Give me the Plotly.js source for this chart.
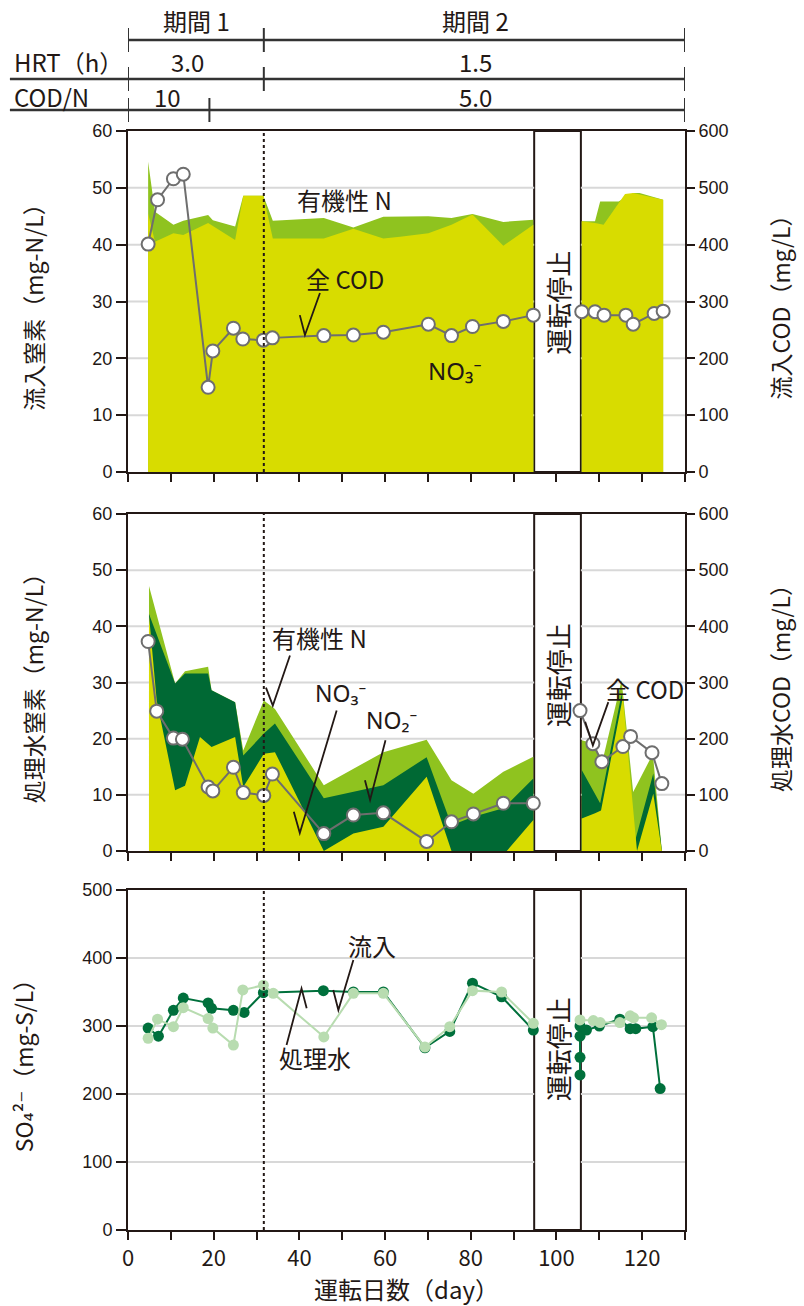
<!DOCTYPE html>
<html><head><meta charset="utf-8">
<script src="https://cdn.plot.ly/plotly-3.0.1.min.js"></script>
<style>html,body{margin:0;padding:0;background:#fff}#chart{width:804px;height:1306px}</style>
</head><body><div id="chart"></div>
<script>
// ---------------- data ----------------
const nTickVals = [0,10,20,30,40,50,60];
const so4TickVals = [0,100,200,300,400,500];
const periodLabels = ['期間 1', '期間 2'];
const hrtLabels = ['3.0', '1.5'];
const codnLabels = ['10', '5.0'];
const dayStart = 0, dayEnd = 130;
const periodSplit = 31.7;   // 期間1 / 期間2
const codnSplit = 19;       // COD/N 10 -> 5.0
const stopStart = 94.8, stopEnd = 105.7; // 運転停止

// Panel 1: influent nitrogen (mg-N/L)
const inflTotDays = [4.7, 6.3, 10.6, 12.9, 18.7, 19.8, 25.0, 26.9, 31.6, 33.8, 45.7, 52.6, 59.6, 70.1, 75.5, 80.4, 87.6, 94.6, 105.9, 109.0, 110.2, 114.5, 117.9, 119.4, 124.9];
const inflTotN    = [54.6, 45.8, 43.5, 44.2, 45.2, 44.3, 43.2, 48.6, 48.6, 44.2, 44.7, 43.0, 44.9, 45.0, 44.7, 45.4, 44.0, 44.4, 44.1, 44.1, 47.6, 47.6, 49.1, 49.1, 47.9];
const inflNO3Days = [4.7, 6.3, 10.6, 12.9, 18.7, 25.0, 26.9, 31.6, 33.8, 45.7, 52.6, 59.6, 63.5, 70.1, 75.5, 80.4, 87.6, 94.6, 105.9, 109.0, 111.0, 116.0, 117.9, 124.9];
const inflNO3     = [45.5, 40.5, 42.0, 41.7, 43.8, 40.8, 48.6, 48.6, 41.1, 41.1, 42.8, 41.1, 41.4, 42.0, 43.5, 45.3, 39.8, 43.5, 44.1, 43.8, 43.5, 48.9, 49.1, 47.9];
const inflCODDays = [4.7, 6.9, 10.6, 12.9, 18.7, 19.8, 24.6, 26.8, 31.6, 33.7, 45.7, 52.6, 59.6, 70.1, 75.5, 80.4, 87.6, 94.6, 105.9, 109.0, 111.1, 116.2, 117.9, 122.8, 124.9];
const inflCOD     = [401, 479, 516, 524, 149, 213, 253, 234, 232, 236, 240, 241, 246, 260, 240, 256, 265, 276, 282, 282, 276, 276, 260, 279, 283];

// Panel 2: effluent nitrogen (mg-N/L)
const effTotDays   = [4.9, 11.0, 13.3, 18.7, 19.5, 25.0, 26.9, 31.7, 34.3, 45.7, 59.6, 69.7, 75.5, 80.6, 87.6, 94.6, 105.9, 108.9, 110.6, 115.2, 117.9, 122.5, 124.6];
const effTotN      = [47.2, 29.8, 32.0, 32.8, 28.6, 26.5, 17.9, 26.8, 25.3, 11.7, 17.6, 19.8, 12.6, 10.2, 14.1, 16.8, 19.7, 19.1, 15.6, 30.4, 10.5, 17.3, 0];
const effInorgDays = [4.9, 11.0, 13.3, 18.7, 19.5, 25.0, 26.9, 31.7, 34.3, 45.7, 59.6, 69.7, 75.5, 80.6, 87.6, 94.6, 105.9, 110.2, 115.2, 118.2, 122.6, 124.6];
const effInorgN    = [42.2, 29.8, 31.6, 31.6, 28.6, 26.5, 17.0, 20.9, 22.7, 9.4, 11.7, 16.7, 4.6, 6.1, 7.6, 12.9, 14.4, 8.5, 28.0, 1.4, 13.8, 0];
const effNO3Days   = [4.9, 6.7, 11.0, 13.3, 16.8, 19.5, 25.0, 26.9, 31.7, 34.3, 45.7, 52.6, 59.6, 69.7, 75.5, 88.4, 94.6, 105.9, 109.0, 110.4, 115.5, 118.8, 122.6, 124.6];
const effNO3       = [42.0, 26.8, 10.8, 11.6, 20.3, 18.5, 20.3, 11.4, 17.3, 17.6, 0, 3.1, 4.3, 13.2, 0, 0, 5.5, 5.8, 6.7, 7.2, 27.4, 0, 10.2, 0];
const effCODDays   = [4.7, 6.7, 10.6, 12.7, 18.7, 19.8, 24.6, 26.9, 31.7, 33.7, 45.7, 52.6, 59.6, 69.7, 75.5, 80.6, 87.6, 94.6, 105.5, 108.5, 110.6, 115.5, 117.3, 122.3, 124.6];
const effCOD       = [373, 249, 201, 199, 114, 107, 149, 104, 99, 137, 31, 64, 68, 17, 52, 66, 85, 85, 250, 191, 159, 186, 204, 175, 120];

// Panel 3: sulfate (mg-S/L)
const inflSO4Days = [4.7, 6.9, 10.6, 12.9, 18.7, 19.8, 24.6, 26.8, 31.6, 33.9, 45.7, 52.6, 59.6, 69.3, 75.1, 80.4, 87.2, 94.6, 105.5, 108.6, 110.2, 114.8, 117.2, 118.0, 122.2, 124.5];
const inflSO4     = [282, 310, 299, 327, 311, 297, 272, 353, 360, 348, 284, 348, 348, 269, 299, 352, 350, 304, 309, 308, 305, 305, 315, 312, 312, 302];
const effSO4Days  = [4.7, 7.1, 10.6, 12.9, 18.7, 19.5, 24.6, 27.1, 31.6, 45.6, 52.6, 59.6, 69.3, 75.1, 80.4, 87.2, 94.6, 105.5, 105.5, 105.5, 105.5, 107.0, 110.0, 114.8, 117.2, 118.5, 122.5, 124.2];
const effSO4      = [297, 285, 323, 341, 334, 326, 323, 320, 349, 352, 350, 350, 268, 292, 363, 343, 294, 228, 254, 285, 300, 294, 300, 310, 296, 296, 299, 208];

// ---------------- styles ----------------
const C_YEL = '#d8dc00', C_ORG = '#8fc31f', C_NO2 = '#006934';
const C_COD = '#6e6e6e', C_INF = '#b8dcb0', C_EFF = '#00703c';
const INK = '#231815', GRID = '#d8d8d8';
const JP = "'Noto Sans CJK JP', 'DejaVu Sans', sans-serif";
const NARROW = "'Liberation Sans Narrow', 'Noto Sans CJK JP', sans-serif";
const SANS = "'Liberation Sans', Arial, sans-serif";
const CHEM = "'Noto Sans', 'DejaVu Sans', sans-serif";

const splitAt = (stopStart + stopEnd) / 2;
function parts(days, vals) {
  const a = {x: [], y: []}, b = {x: [], y: []};
  days.forEach((d, i) => { const t = d < splitAt ? a : b; t.x.push(d); t.y.push(vals[i]); });
  return [a, b];
}
const traces = [];
function area(days, vals, color, xa, ya) {
  parts(days, vals).forEach(p => traces.push({
    x: p.x, y: p.y, xaxis: xa, yaxis: ya, type: 'scatter', mode: 'none',
    fill: 'tozeroy', fillcolor: color, hoverinfo: 'skip', showlegend: false
  }));
}
function codLine(days, vals, xa, ya) {
  parts(days, vals).forEach(p => traces.push({
    x: p.x, y: p.y, xaxis: xa, yaxis: ya, type: 'scatter', mode: 'lines+markers',
    line: {color: C_COD, width: 2},
    marker: {size: 13, color: '#ffffff', line: {color: C_COD, width: 2}},
    showlegend: false
  }));
}
function so4Line(days, vals, color) {
  parts(days, vals).forEach(p => traces.push({
    x: p.x, y: p.y, xaxis: 'x3', yaxis: 'y3', type: 'scatter', mode: 'lines+markers',
    line: {color: color, width: 2}, marker: {size: 11, color: color},
    showlegend: false
  }));
}

// panel 1
area(inflTotDays, inflTotN, C_ORG, 'x', 'y');
area(inflNO3Days, inflNO3, C_YEL, 'x', 'y');
codLine(inflCODDays, inflCOD, 'x', 'y4');
// panel 2
area(effTotDays, effTotN, C_ORG, 'x2', 'y2');
area(effInorgDays, effInorgN, C_NO2, 'x2', 'y2');
area(effNO3Days, effNO3, C_YEL, 'x2', 'y2');
codLine(effCODDays, effCOD, 'x2', 'y5');
// panel 3
so4Line(effSO4Days, effSO4, C_EFF);
so4Line(inflSO4Days, inflSO4, C_INF);

// ---------------- layout ----------------
const H = 1306, T = 131, B = 76;
const plotH = H - T - B;
const py = v => (H - B - v) / plotH;   // pixel row -> paper y
const D1 = [py(472), 1], D2 = [py(851), py(514)], D3 = [0, py(890)];

const tickFontL = {family: SANS, size: 18, color: INK};
function xAxis(anchor, labels) {
  const ax = {
    anchor: anchor, domain: [0, 1], range: [dayStart, dayEnd], tickmode: 'linear', tick0: 0, dtick: 20,
    ticks: 'outside', ticklen: 8, tickwidth: 2, tickcolor: INK,
    minor: {dtick: 10, tick0: 0, ticks: 'outside', ticklen: 8, tickwidth: 2, tickcolor: INK, showgrid: false},
    showline: true, linecolor: INK, linewidth: 2, mirror: true,
    showgrid: false, zeroline: false, showticklabels: labels,
    tickfont: {family: NARROW, size: 22, color: INK}
  };
  if (anchor !== 'y3') ax.matches = 'x3';
  return ax;
}
function yAxis(anchor, domain, range, tickvals, title, mirror) {
  return {
    anchor: anchor, domain: domain, range: range, tickmode: 'array', tickvals: tickvals,
    ticks: 'outside', ticklen: 10, tickwidth: 2, tickcolor: INK,
    showline: true, linecolor: INK, linewidth: 2, mirror: mirror,
    showgrid: false, zeroline: false,
    tickfont: tickFontL,
    title: {text: title, font: {family: JP, size: 23, color: INK}, standoff: 42}
  };
}
function yRight(overlay, range, title) {
  return {
    overlaying: overlay, side: 'right', anchor: overlay === 'y' ? 'x' : 'x2',
    range: range, dtick: 100, tick0: 0, ticks: 'outside', ticklen: 8, tickwidth: 2,
    tickcolor: INK, showline: true, linecolor: INK, linewidth: 2, showgrid: false,
    zeroline: false, tickfont: tickFontL,
    title: {text: title, font: {family: JP, size: 23, color: INK}, standoff: 46}
  };
}

const shapes = [];
const annotations = [];
// gridlines (skipping the stop box), stop boxes and period divider in every panel
[['x', 'y', nTickVals], ['x2', 'y2', nTickVals], ['x3', 'y3', so4TickVals]].forEach(([xa, ya, tv]) => {
  tv.slice(1, -1).forEach(v => {
    [[dayStart, stopStart], [stopEnd, dayEnd]].forEach(([a, b]) => shapes.push({
      type: 'line', xref: xa, yref: ya, x0: a, x1: b, y0: v, y1: v,
      line: {color: GRID, width: 2}, layer: 'below'}));
  });
  shapes.push({type: 'rect', xref: xa, yref: ya + ' domain', x0: stopStart, x1: stopEnd, y0: 0, y1: 1,
    fillcolor: 'rgba(255,255,255,0)', line: {color: INK, width: 2}, layer: 'below'});
  shapes.push({type: 'line', xref: xa, yref: ya + ' domain', x0: periodSplit, x1: periodSplit, y0: 0, y1: 1,
    line: {color: INK, width: 2, dash: 'dot'}, layer: 'above'});
});
// header rows
const hdr = (y, x0p, ticks) => {
  shapes.push({type: 'line', xref: 'paper', yref: 'paper', x0: x0p, x1: 1, y0: py(y), y1: py(y),
    line: {color: '#333', width: 2.5}});
  ticks.forEach(t => shapes.push({type: 'line', xref: 'x', yref: 'paper', x0: t, x1: t,
    y0: py(y - 12), y1: py(y + 12), line: {color: '#333', width: 2}}));
};
hdr(40, 0, [dayStart, periodSplit, dayEnd]);
hdr(79, -0.212, [dayStart, periodSplit, dayEnd]);
hdr(110, -0.212, [dayStart, codnSplit, dayEnd]);
const hfont = {family: NARROW, size: 24, color: INK};
const hdrText = (text, x, xref, y, anchor) => annotations.push({text: text, x: x, xref: xref,
  y: py(y), yref: 'paper', showarrow: false, xanchor: anchor || 'center', yanchor: 'middle', font: hfont});
hdrText(periodLabels[0], 15.9, 'x', 21);
hdrText(periodLabels[1], 81, 'x', 21);
hdrText('HRT（h）', -0.208, 'paper', 61, 'left');
hdrText(hrtLabels[0], 14, 'x', 61);
hdrText(hrtLabels[1], 81, 'x', 61);
hdrText('COD/N', -0.208, 'paper', 96, 'left');
hdrText(codnLabels[0], 9.3, 'x', 96);
hdrText(codnLabels[1], 81, 'x', 96);

// in-plot labels
const lab = (text, x, y, xa, ya, size, fam) => annotations.push({text: text, x: x, y: y, xref: xa, yref: ya,
  showarrow: false, font: {family: fam || JP, size: size || 24, color: INK}});
lab('有機性 N', 50.6, 47.9, 'x', 'y');
lab('全 COD', 50.6, 34.1, 'x', 'y');
lab('NO₃⁻', 76.3, 17.9, 'x', 'y', 24, CHEM);
lab('有機性 N', 44.8, 38.0, 'x2', 'y2');
lab('NO₃⁻', 49.5, 28.2, 'x2', 'y2', 23, CHEM);
lab('NO₂⁻', 61.6, 23.3, 'x2', 'y2', 23, CHEM);
lab('全 COD', 120.7, 28.9, 'x2', 'y2');
lab('流入', 56.9, 419, 'x3', 'y3');
lab('処理水', 43.6, 254, 'x3', 'y3');
[['x', 'y', 29.7], ['x2', 'y2', 31.2], ['x3', 'y3', 265]].forEach(([xa, ya, y]) =>
  annotations.push({text: '運転停止', x: (stopStart + stopEnd) / 2, y: y, xref: xa, yref: ya, textangle: -90,
    showarrow: false, font: {family: JP, size: 26, color: INK}}));

// check-mark leaders
const tick = (xa, ya, p) => shapes.push({type: 'path', xref: xa, yref: ya, layer: 'above',
  path: 'M' + p[0] + ',' + p[1] + ' L' + p[2] + ',' + p[3] + ' L' + p[4] + ',' + p[5],
  line: {color: INK, width: 1.8}});
tick('x', 'y', [40.1, 27.6, 41.3, 24.1, 44.8, 31.5]);
tick('x2', 'y2', [32.2, 29.1, 33.8, 25.9, 37.8, 34.8]);
tick('x2', 'y2', [38.7, 7.0, 40.1, 3.2, 48.7, 25.0]);
tick('x2', 'y2', [55.3, 12.6, 56.5, 9.1, 60.1, 19.7]);
tick('x2', 'y2', [106.7, 23.0, 108.5, 18.8, 112.1, 26.5]);
tick('x3', 'y3', [47.9, 353, 49.1, 323.5, 52.6, 397]);
tick('x3', 'y3', [37.0, 272, 40.5, 355, 41.7, 326]);

const layout = {
  width: 804, height: 1306,
  margin: {l: 128, r: 119, t: T, b: B},
  paper_bgcolor: '#ffffff', plot_bgcolor: '#ffffff',
  showlegend: false,
  xaxis: xAxis('y', false),
  xaxis2: xAxis('y2', false),
  xaxis3: Object.assign(xAxis('y3', true), {title: {text: '運転日数（day）', font: {family: NARROW, size: 24, color: INK}, standoff: 10}}),
  yaxis: yAxis('x', D1, [0, 60], nTickVals, '流入窒素（mg-N/L）', false),
  yaxis2: yAxis('x2', D2, [0, 60], nTickVals, '処理水窒素（mg-N/L）', false),
  yaxis3: yAxis('x3', D3, [0, 500], so4TickVals, 'SO₄²⁻（mg-S/L）', true),
  yaxis4: yRight('y', [0, 600], '流入COD（mg/L）'),
  yaxis5: yRight('y2', [0, 600], '処理水COD（mg/L）'),
  shapes: shapes,
  annotations: annotations
};

Plotly.newPlot('chart', traces, layout, {displayModeBar: false, staticPlot: true});
</script>
</body></html>
